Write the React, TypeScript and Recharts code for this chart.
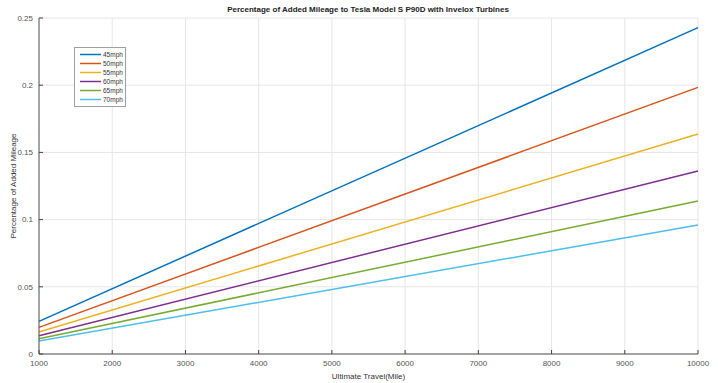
import React from 'react';
import { LineChart, Line, XAxis, YAxis, CartesianGrid } from 'recharts';

// Travel distance (miles) at the ends of each run
const travel = [1000, 10000];

// Percentage of added mileage per speed
const mph45 = [0.0243, 0.2428];
const mph50 = [0.0198, 0.1984];
const mph55 = [0.0164, 0.1637];
const mph60 = [0.0136, 0.1362];
const mph65 = [0.0114, 0.1138];
const mph70 = [0.0096, 0.096];

const xTicks = [1000, 2000, 3000, 4000, 5000, 6000, 7000, 8000, 9000, 10000];
const yTicks = [0, 0.05, 0.1, 0.15, 0.2, 0.25];

const series = [
  { key: 'mph45', name: '45mph', values: mph45, color: '#0072BD' },
  { key: 'mph50', name: '50mph', values: mph50, color: '#D95319' },
  { key: 'mph55', name: '55mph', values: mph55, color: '#EDB120' },
  { key: 'mph60', name: '60mph', values: mph60, color: '#7E2F8E' },
  { key: 'mph65', name: '65mph', values: mph65, color: '#77AC30' },
  { key: 'mph70', name: '70mph', values: mph70, color: '#4DBEEE' },
];

const data = travel.map((t, i) => {
  const row: Record<string, number> = { travel: t };
  series.forEach((s) => {
    row[s.key] = s.values[i];
  });
  return row;
});

const FONT = '"Liberation Sans", Arial, Helvetica, sans-serif';
const TICK_COLOR = '#555';

const LegendBox = () => (
  <div
    style={{
      position: 'absolute',
      left: 74,
      top: 47,
      border: '1px solid #a0a0a0',
      background: '#fff',
      padding: '2px 2px 2px 5px',
      fontFamily: FONT,
      fontSize: 6.5,
      color: '#333',
      lineHeight: '9px',
    }}
  >
    {series.map((s) => (
      <div key={s.key} style={{ display: 'flex', alignItems: 'center', height: 9 }}>
        <svg width={21} height={9} style={{ marginRight: 2 }}>
          <line x1={0} x2={21} y1={4.5} y2={4.5} stroke={s.color} strokeWidth={1.5} />
        </svg>
        <span>{s.name}</span>
      </div>
    ))}
  </div>
);

export default function App() {
  return (
    <div style={{ position: 'absolute', left: 0, top: 0, width: 718, height: 383, background: '#fff' }}>
      <LineChart
        width={718}
        height={383}
        data={data}
        margin={{ top: 18, right: 20, bottom: 0, left: 0 }}
      >
        <CartesianGrid stroke="#e6e6e6" strokeWidth={1} />
        <XAxis
          dataKey="travel"
          type="number"
          domain={[1000, 10000]}
          ticks={xTicks}
          interval={0}
          height={29}
          tickSize={-4}
          tickMargin={10}
          axisLine={{ stroke: '#555' }}
          tickLine={{ stroke: '#444' }}
          tick={{ fill: TICK_COLOR, fontSize: 8, fontFamily: FONT }}
          label={{
            value: 'Ultimate Travel(Mile)',
            position: 'insideBottom',
            offset: 4,
            fill: '#333',
            fontSize: 8,
            fontFamily: FONT,
          }}
        />
        <YAxis
          type="number"
          domain={[0, 0.25]}
          ticks={yTicks}
          interval={0}
          width={39}
          tickSize={-4}
          tickMargin={10}
          axisLine={{ stroke: '#555' }}
          tickLine={{ stroke: '#444' }}
          tick={{ fill: TICK_COLOR, fontSize: 8, fontFamily: FONT }}
          label={{
            value: 'Percentage of Added Mileage',
            angle: -90,
            position: 'insideLeft',
            offset: 13,
            style: { textAnchor: 'middle' },
            fill: '#333',
            fontSize: 8,
            fontFamily: FONT,
          }}
        />
        {series.map((s) => (
          <Line
            key={s.key}
            dataKey={s.key}
            name={s.name}
            stroke={s.color}
            strokeWidth={1.5}
            dot={false}
            isAnimationActive={false}
          />
        ))}
        <text
          x={368}
          y={12}
          textAnchor="middle"
          fontFamily={FONT}
          fontSize={8}
          fontWeight="bold"
          fill="#222"
        >
          Percentage of Added Mileage to Tesla Model S P90D with Invelox Turbines
        </text>
      </LineChart>
      <LegendBox />
    </div>
  );
}
